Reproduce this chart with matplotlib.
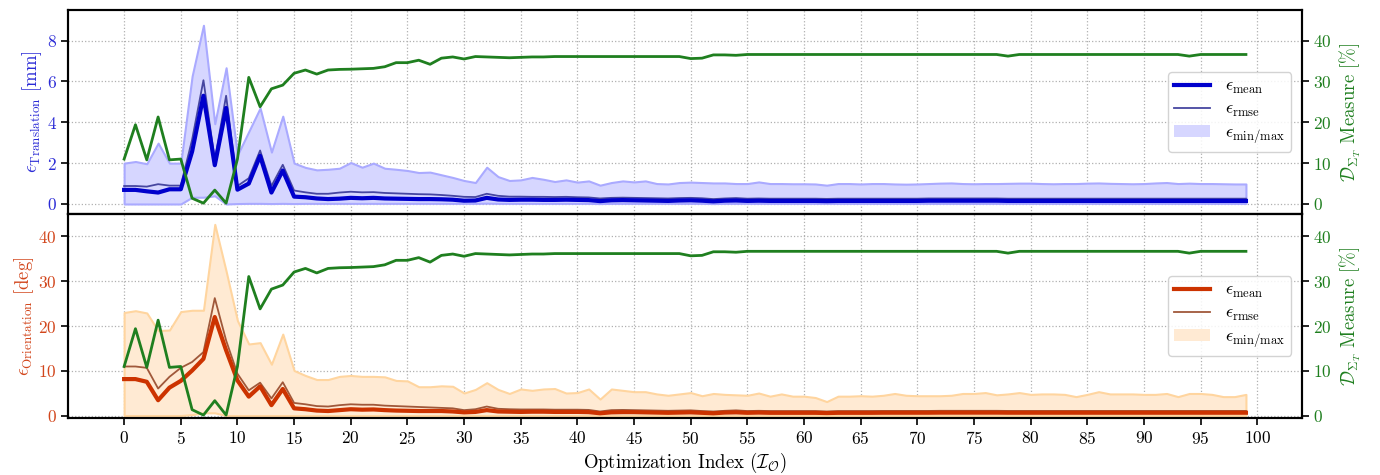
import numpy as np
import matplotlib
matplotlib.use("Agg")
import matplotlib.pyplot as plt
from matplotlib.lines import Line2D
from matplotlib.patches import Patch

plt.rcParams['font.family'] = 'serif'
plt.rcParams['font.serif'] = ['cmr10', 'DejaVu Serif']
plt.rcParams['mathtext.fontset'] = 'cm'
plt.rcParams['axes.formatter.use_mathtext'] = True
plt.rcParams['font.size'] = 12.5

# translation error [mm]
t_mean = [0.69, 0.69, 0.62, 0.56, 0.72, 0.72, 2.57, 5.3, 1.9, 4.7, 0.7, 1.0, 2.36, 0.56, 1.64,
          0.36, 0.33, 0.27, 0.24, 0.26, 0.3, 0.28, 0.3, 0.27, 0.26, 0.25, 0.24, 0.24, 0.23, 0.21,
          0.16, 0.17, 0.3, 0.22, 0.2, 0.21, 0.21, 0.2, 0.2, 0.21, 0.2, 0.19, 0.14, 0.18, 0.19,
          0.18, 0.17, 0.16, 0.15, 0.17, 0.18, 0.16, 0.13, 0.16, 0.17, 0.15, 0.16, 0.15, 0.15, 0.15,
          0.15, 0.15, 0.14, 0.15, 0.15, 0.15, 0.15, 0.15, 0.15, 0.15, 0.15, 0.16, 0.16, 0.16, 0.16,
          0.16, 0.16, 0.16, 0.15, 0.15, 0.15, 0.15, 0.15, 0.15, 0.15, 0.15, 0.15, 0.15, 0.15, 0.15,
          0.15, 0.15, 0.15, 0.15, 0.15, 0.15, 0.15, 0.15, 0.15, 0.15]
t_rmse = [0.88, 0.88, 0.85, 0.97, 0.9, 0.9, 3.15, 6.06, 2.16, 5.3, 0.88, 1.26, 2.62, 0.88, 1.92,
          0.66, 0.57, 0.5, 0.5, 0.56, 0.6, 0.57, 0.58, 0.54, 0.52, 0.5, 0.48, 0.47, 0.44, 0.4,
          0.35, 0.34, 0.5, 0.4, 0.36, 0.36, 0.35, 0.35, 0.34, 0.35, 0.33, 0.32, 0.27, 0.3, 0.31,
          0.3, 0.29, 0.28, 0.27, 0.29, 0.3, 0.28, 0.24, 0.27, 0.29, 0.26, 0.27, 0.26, 0.26, 0.26,
          0.26, 0.26, 0.25, 0.26, 0.26, 0.26, 0.26, 0.26, 0.26, 0.26, 0.26, 0.27, 0.27, 0.27, 0.27,
          0.27, 0.27, 0.27, 0.26, 0.26, 0.26, 0.26, 0.26, 0.26, 0.26, 0.26, 0.26, 0.26, 0.26, 0.26,
          0.26, 0.26, 0.26, 0.26, 0.26, 0.26, 0.26, 0.26, 0.26, 0.26]
t_max = [2.0, 2.08, 1.97, 2.98, 2.0, 2.0, 6.26, 8.75, 3.93, 6.67, 2.4, 3.55, 4.7, 2.54, 4.3,
         2.0, 1.79, 1.67, 1.7, 1.75, 2.03, 1.8, 2.0, 1.75, 1.7, 1.64, 1.54, 1.56, 1.43, 1.3,
         1.15, 1.05, 1.8, 1.34, 1.15, 1.18, 1.3, 1.21, 1.1, 1.18, 1.07, 1.13, 0.92, 1.05, 1.13,
         1.08, 1.13, 1.0, 0.98, 1.05, 1.07, 1.05, 1.03, 1.03, 1.0, 1.0, 1.08, 1.0, 1.0, 0.99,
         0.99, 0.98, 0.92, 1.0, 1.0, 0.98, 1.0, 1.0, 0.98, 0.97, 0.98, 1.0, 1.02, 1.03, 1.0,
         0.99, 1.0, 1.0, 1.01, 1.02, 1.02, 1.0, 0.99, 1.0, 1.0, 1.02, 1.03, 1.01, 1.0, 0.99,
         1.0, 1.03, 1.05, 1.0, 1.02, 1.0, 1.0, 0.99, 0.98, 0.98]
t_min = [0.0, 0.0, 0.0, 0.0, 0.0, 0.0, 0.33, 0.33, 0.4, 0.0, 0.02, 0.03, 0.03, 0.02, 0.03,
         0.02, 0.03, 0.03, 0.03, 0.03, 0.03, 0.03, 0.03, 0.03, 0.03, 0.03, 0.03, 0.03, 0.03, 0.03,
         0.03, 0.03, 0.04, 0.03, 0.03, 0.03, 0.03, 0.03, 0.03, 0.03, 0.03, 0.03, 0.02, 0.03, 0.03,
         0.03, 0.03, 0.03, 0.03, 0.03, 0.03, 0.03, 0.02, 0.03, 0.03, 0.03, 0.03, 0.03, 0.03, 0.03,
         0.03, 0.03, 0.03, 0.03, 0.03, 0.03, 0.03, 0.03, 0.03, 0.03, 0.03, 0.03, 0.03, 0.03, 0.03,
         0.03, 0.03, 0.03, 0.03, 0.03, 0.03, 0.03, 0.03, 0.03, 0.03, 0.03, 0.03, 0.03, 0.03, 0.03,
         0.03, 0.03, 0.03, 0.03, 0.03, 0.03, 0.03, 0.03, 0.03, 0.03]

# orientation error [deg]
o_mean = [8.2, 8.2, 7.6, 3.5, 6.3, 7.8, 10.1, 12.7, 22.0, 14.6, 7.9, 4.3, 6.6, 2.4, 6.0,
          1.7, 1.5, 1.2, 1.1, 1.3, 1.5, 1.4, 1.45, 1.3, 1.2, 1.15, 1.1, 1.1, 1.1, 1.0,
          0.8, 0.9, 1.3, 1.0, 0.95, 0.9, 0.95, 0.95, 0.9, 0.9, 0.9, 0.85, 0.6, 0.8, 0.85,
          0.85, 0.8, 0.75, 0.7, 0.75, 0.8, 0.7, 0.6, 0.75, 0.8, 0.7, 0.75, 0.7, 0.7, 0.7,
          0.7, 0.7, 0.65, 0.7, 0.7, 0.7, 0.7, 0.72, 0.72, 0.72, 0.72, 0.72, 0.74, 0.74, 0.74,
          0.74, 0.74, 0.74, 0.72, 0.72, 0.72, 0.72, 0.72, 0.72, 0.72, 0.72, 0.72, 0.72, 0.72, 0.72,
          0.72, 0.72, 0.72, 0.72, 0.72, 0.72, 0.72, 0.72, 0.72, 0.72]
o_rmse = [11.0, 11.0, 10.7, 6.1, 8.7, 10.7, 12.0, 14.2, 26.2, 16.8, 9.4, 5.7, 7.4, 3.9, 7.5,
          2.9, 2.6, 2.2, 2.1, 2.4, 2.6, 2.5, 2.5, 2.3, 2.2, 2.1, 2.0, 1.9, 1.8, 1.7,
          1.3, 1.5, 2.1, 1.6, 1.5, 1.45, 1.45, 1.45, 1.4, 1.4, 1.4, 1.35, 1.0, 1.3, 1.35,
          1.3, 1.25, 1.2, 1.15, 1.2, 1.25, 1.1, 1.0, 1.15, 1.25, 1.1, 1.15, 1.1, 1.1, 1.1,
          1.1, 1.1, 1.0, 1.1, 1.1, 1.1, 1.1, 1.12, 1.12, 1.12, 1.12, 1.12, 1.15, 1.15, 1.15,
          1.15, 1.15, 1.15, 1.12, 1.12, 1.12, 1.12, 1.12, 1.12, 1.12, 1.12, 1.12, 1.12, 1.12, 1.12,
          1.12, 1.12, 1.12, 1.12, 1.12, 1.12, 1.12, 1.12, 1.12, 1.12]
o_max = [23.0, 23.4, 22.9, 19.0, 19.1, 23.2, 23.5, 23.5, 42.6, 32.2, 21.2, 16.0, 16.3, 11.5, 18.2,
         10.1, 9.0, 8.1, 8.1, 8.8, 9.0, 8.8, 8.8, 8.7, 7.9, 7.8, 6.5, 6.5, 6.7, 6.6,
         5.1, 5.9, 7.4, 5.9, 5.0, 6.0, 5.7, 6.0, 6.1, 5.1, 5.2, 6.0, 3.75, 6.0, 5.7,
         5.4, 5.4, 4.9, 4.6, 4.9, 5.2, 4.5, 5.0, 4.8, 4.7, 4.6, 5.1, 4.4, 4.9, 4.4,
         4.4, 4.1, 3.2, 4.4, 4.4, 4.5, 4.4, 4.6, 5.0, 4.6, 4.5, 4.5, 4.5, 4.6, 5.0,
         5.0, 5.2, 4.7, 4.9, 5.2, 4.8, 4.9, 4.9, 4.8, 4.3, 4.8, 5.4, 4.9, 4.9, 4.9,
         4.8, 4.8, 5.0, 4.3, 5.0, 5.0, 4.8, 4.3, 4.3, 4.8]
o_min = [0.1, 0.1, 0.1, 0.1, 0.1, 0.1, 0.3, 0.7, 0.7, 0.1, 0.1, 0.1, 0.1, 0.1, 0.1,
         0.1, 0.1, 0.1, 0.1, 0.1, 0.1, 0.1, 0.1, 0.1, 0.1, 0.1, 0.1, 0.1, 0.1, 0.1,
         0.1, 0.1, 0.1, 0.1, 0.1, 0.1, 0.1, 0.1, 0.1, 0.1, 0.1, 0.1, 0.1, 0.1, 0.1,
         0.1, 0.1, 0.1, 0.1, 0.1, 0.1, 0.1, 0.1, 0.1, 0.1, 0.1, 0.1, 0.1, 0.1, 0.1,
         0.1, 0.1, 0.1, 0.1, 0.1, 0.1, 0.1, 0.1, 0.1, 0.1, 0.1, 0.1, 0.1, 0.1, 0.1,
         0.1, 0.1, 0.1, 0.1, 0.1, 0.1, 0.1, 0.1, 0.1, 0.1, 0.1, 0.1, 0.1, 0.1, 0.1,
         0.1, 0.1, 0.1, 0.1, 0.1, 0.1, 0.1, 0.1, 0.1, 0.1]

# D_Sigma_T measure [%]
d_measure = [11.0, 19.4, 10.8, 21.3, 10.8, 11.0, 1.4, 0.2, 3.4, 0.2, 11.0, 31.0, 23.8, 28.2, 29.1,
             32.0, 32.8, 31.8, 32.8, 32.95, 33.0, 33.1, 33.2, 33.6, 34.6, 34.6, 35.2, 34.2, 35.7, 36.0,
             35.5, 36.1, 36.0, 35.9, 35.8, 35.9, 36.0, 36.0, 36.1, 36.1, 36.1, 36.1, 36.1, 36.1, 36.1,
             36.1, 36.1, 36.1, 36.1, 36.1, 35.6, 35.7, 36.5, 36.5, 36.4, 36.6, 36.6, 36.6, 36.6, 36.6,
             36.6, 36.6, 36.6, 36.6, 36.6, 36.6, 36.6, 36.6, 36.6, 36.6, 36.6, 36.6, 36.6, 36.6, 36.6,
             36.6, 36.6, 36.6, 36.2, 36.6, 36.6, 36.6, 36.6, 36.6, 36.6, 36.6, 36.6, 36.6, 36.6, 36.6,
             36.6, 36.6, 36.6, 36.6, 36.2, 36.6, 36.6, 36.6, 36.6, 36.6]

idx = np.arange(len(d_measure))
green = '#1f7f1f'

panels = [
    dict(mean=t_mean, rmse=t_rmse, lo=t_min, hi=t_max,
         c_mean='#0000cc', c_rmse='#4646a0', c_fill='#d6d6ff', c_edge='#aaaaff',
         c_lab='#2b2bd6', label=r'$\epsilon_{\mathrm{Translation}}$ [mm]',
         ylim=(-0.49, 9.5), yticks=[0, 2, 4, 6, 8], ylim2=(-2.45, 47.5)),
    dict(mean=o_mean, rmse=o_rmse, lo=o_min, hi=o_max,
         c_mean='#cc3300', c_rmse='#a0583a', c_fill='#ffead3', c_edge='#ffd59f',
         c_lab='#d2461c', label=r'$\epsilon_{\mathrm{Orientation}}$ [deg]',
         ylim=(-0.45, 44.9), yticks=[0, 10, 20, 30, 40], ylim2=(-0.45, 44.9)),
]

fig = plt.figure(figsize=(13.8, 4.75), dpi=100)
ax_top = fig.add_axes([0.0493, 0.5495, 0.8942, 0.4295])
ax_bot = fig.add_axes([0.0493, 0.12, 0.8942, 0.4295], sharex=ax_top)

for ax, p in zip([ax_top, ax_bot], panels):
    ax.fill_between(idx, p['lo'], p['hi'], facecolor=p['c_fill'],
                    edgecolor=p['c_edge'], linewidth=1.5, zorder=1)
    ax.plot(idx, p['rmse'], color=p['c_rmse'], lw=1.3, zorder=3)
    ax.plot(idx, p['mean'], color=p['c_mean'], lw=3.0, zorder=4)
    ax.set_ylim(*p['ylim'])
    ax.set_yticks(p['yticks'])
    ax.set_ylabel(p['label'], color=p['c_lab'], fontsize=13.5, labelpad=2)
    ax.tick_params(axis='y', labelcolor=p['c_lab'], color='black', direction='out',
                   length=5, width=1.2, labelsize=12.5, pad=3)
    ax.grid(True, linestyle=':', color='#b0b0b0', linewidth=0.9)
    ax.set_axisbelow(True)
    for s in ax.spines.values():
        s.set_linewidth(1.5)
        s.set_color('black')

    ax2 = ax.twinx()
    ax2.plot(idx, d_measure, color=green, lw=2.0, zorder=5)
    ax2.set_ylim(*p['ylim2'])
    ax2.set_yticks([0, 10, 20, 30, 40])
    ax2.set_ylabel(r'$\mathcal{D}_{\Sigma_T}$ Measure [%]', color=green, fontsize=13.5, labelpad=4)
    ax2.tick_params(axis='y', labelcolor=green, color='black', direction='out',
                    length=5, width=1.2, labelsize=12.5, pad=3)
    for s in ax2.spines.values():
        s.set_linewidth(1.5)

    handles = [Line2D([], [], color=p['c_mean'], lw=3.0),
               Line2D([], [], color=p['c_rmse'], lw=1.3),
               Patch(facecolor=p['c_fill'], edgecolor='none')]
    labels = [r'$\epsilon_{\mathrm{mean}}$', r'$\epsilon_{\mathrm{rmse}}$',
              r'$\epsilon_{\mathrm{min/max}}$']
    ax2.legend(handles, labels, loc='center right', fontsize=13, framealpha=0.85,
               edgecolor='#cccccc', borderaxespad=0.6, labelspacing=0.3,
               borderpad=0.35)

ax_top.set_xlim(-4.95, 103.95)
ax_top.set_xticks(np.arange(0, 101, 5))
ax_top.tick_params(axis='x', bottom=False, labelbottom=False)
ax_bot.tick_params(axis='x', direction='out', length=5, width=1.2, labelsize=12.5)
ax_bot.set_xlabel(r'Optimization Index ($\mathcal{I}_\mathcal{O}$)', fontsize=13.5, labelpad=3)

fig.savefig('out.png', dpi=100)
